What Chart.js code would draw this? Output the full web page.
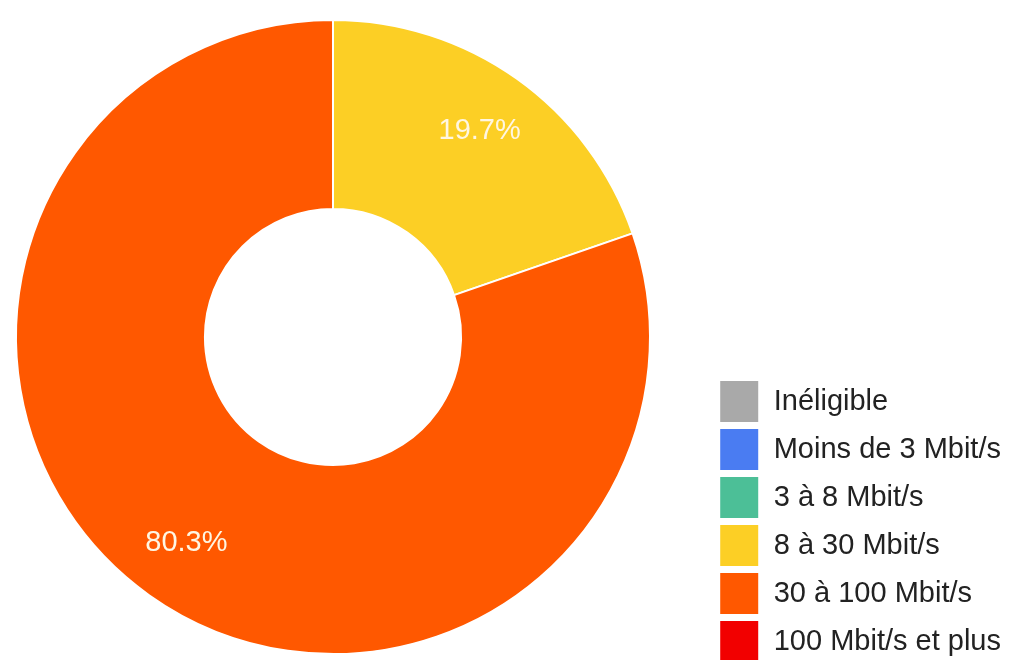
<!DOCTYPE html>
<html>
<head>
<meta charset="utf-8">
<script src="https://cdn.jsdelivr.net/npm/chart.js@4/dist/chart.umd.min.js"></script>
<style>
  html, body { margin: 0; padding: 0; background: #fff; overflow: hidden; }
  #wrap { width: 1011px; height: 660px; overflow: hidden; }
</style>
</head>
<body>
<div id="wrap"><canvas id="debitChart" width="1011" height="668"></canvas></div>
<script>
const categories = ['Inéligible', 'Moins de 3 Mbit/s', '3 à 8 Mbit/s', '8 à 30 Mbit/s', '30 à 100 Mbit/s', '100 Mbit/s et plus']
const shares = [0, 0, 0, 19.7, 80.3, 0]
const colors = ['#a9a9a9', '#4a7cf2', '#4cbf97', '#fccf25', '#ff5800', '#f20000']

const legendFont = { family: '"Liberation Sans", Arial, sans-serif', size: 29 }
const boxW = 40, boxH = 43, gap = 5

// the canvas is a bit taller than the window: the last legend row is cut, like the reference
// measure widest legend label so the legend's left edge lands where it should
const mctx = document.createElement('canvas').getContext('2d')
mctx.font = legendFont.size + 'px ' + legendFont.family
const maxText = Math.max(...categories.map(c => mctx.measureText(c).width))
const legendWidth = gap + boxW + legendFont.size / 2 + maxText + 10
const padRight = Math.max(0, 1011 - 715 - legendWidth)
const legendLeft = 1011 - padRight - legendWidth
const centerX = 333
const spacer = legendLeft - 2 * centerX   // empty title between ring and legend
const spacerPad = Math.max(0, (spacer - 1.2) / 2)

// percentage labels drawn on the ring
const pctLabels = {
  id: 'pctLabels',
  afterDatasetsDraw(chart) {
    const ctx = chart.ctx
    const meta = chart.getDatasetMeta(0)
    ctx.save()
    ctx.font = '29px "Liberation Sans", Arial, sans-serif'
    ctx.fillStyle = '#fff6e2'
    ctx.textAlign = 'center'
    ctx.textBaseline = 'middle'
    meta.data.forEach((arc, i) => {
      const v = shares[i]
      if (!v) return
      const p = arc.getProps(['x', 'y', 'startAngle', 'endAngle', 'innerRadius', 'outerRadius'], true)
      const mid = (p.startAngle + p.endAngle) / 2
      const r = p.innerRadius + 0.66 * (p.outerRadius - p.innerRadius)
      ctx.fillText(v.toFixed(1) + '%', p.x + Math.cos(mid) * r, p.y + Math.sin(mid) * r)
    })
    ctx.restore()
  }
}

var ctx = document.getElementById('debitChart').getContext('2d')
var chart = new Chart(ctx, {
  type: 'doughnut',
  data: {
    labels: categories,
    datasets: [{
      data: shares,
      backgroundColor: colors,
      borderColor: '#ffffff',
      borderWidth: 2
    }]
  },
  options: {
    responsive: false,
    animation: false,
    devicePixelRatio: 1,
    radius: 317,
    cutout: '40.4%',
    layout: {
      padding: { top: 6, bottom: 0, left: 0, right: padRight }
    },
    plugins: {
      tooltip: { enabled: false },
      title: {
        display: true,
        text: ' ',
        position: 'right',
        weight: 500,
        font: { size: 1 },
        padding: { top: spacerPad, bottom: spacerPad }
      },
      legend: {
        display: true,
        position: 'right',
        align: 'end',
        maxWidth: 400,
        labels: {
          boxWidth: boxW,
          boxHeight: boxH,
          padding: gap,
          color: '#222',
          font: legendFont
        }
      }
    }
  },
  plugins: [pctLabels]
})
</script>
</body>
</html>
